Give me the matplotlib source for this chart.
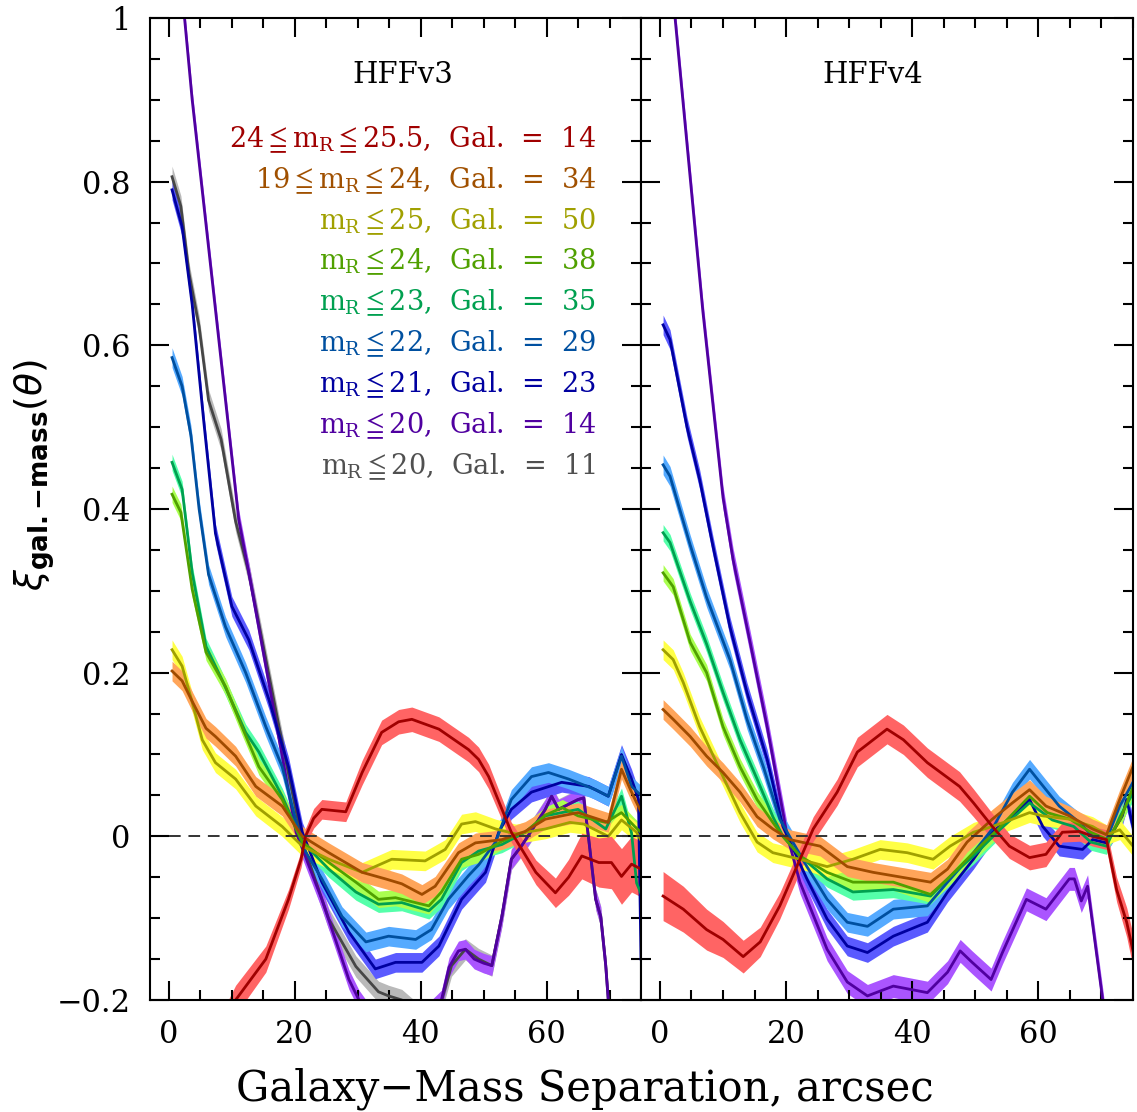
import matplotlib
matplotlib.use('Agg')
import matplotlib.pyplot as plt
from matplotlib.ticker import MultipleLocator, FuncFormatter
import numpy as np

plt.rcParams['font.family'] = 'DejaVu Serif'
plt.rcParams['mathtext.fontset'] = 'dejavuserif'

# ---------------- HFFv3 (left panel) ----------------
v3_red_x = [8, 10.6, 15.4, 19.0, 21.0, 21.7, 23.0, 24.3, 28.1, 30.7, 33.8, 36.5, 38.6, 42.9, 47.6, 49.2, 50.8, 54.4, 58.3, 61.4, 63.5, 65.6, 68.3, 70.3, 71.9, 73.5, 75]
v3_red_y = [-0.24, -0.20, -0.15, -0.077, -0.028, 0.0, 0.022, 0.033, 0.030, 0.078, 0.127, 0.140, 0.143, 0.131, 0.106, 0.094, 0.073, 0.005, -0.044, -0.069, -0.050, -0.024, -0.032, -0.032, -0.049, -0.034, -0.04]
v3_red_e = [0.018, 0.018, 0.016, 0.012, 0.01, 0.01, 0.012, 0.012, 0.012, 0.015, 0.015, 0.015, 0.015, 0.015, 0.015, 0.015, 0.015, 0.012, 0.015, 0.018, 0.022, 0.028, 0.03, 0.032, 0.034, 0.034, 0.034]

v3_orange_x = [0.5, 2.1, 3.7, 5.9, 7.4, 10.6, 13.8, 18.0, 21.2, 25.4, 30.7, 34.4, 37.0, 40.2, 42.3, 46.0, 48.7, 52.9, 56.6, 59.8, 65.0, 69.8, 71.9, 73.5, 75]
v3_orange_y = [0.202, 0.190, 0.165, 0.132, 0.122, 0.098, 0.061, 0.037, 0.0, -0.020, -0.044, -0.052, -0.058, -0.071, -0.061, -0.020, -0.008, -0.004, 0.006, 0.021, 0.029, 0.017, 0.082, 0.054, 0.03]

v3_yellow_x = [0.5, 2.1, 3.7, 5.3, 7.4, 10.6, 13.8, 18.0, 21.2, 25.4, 30.7, 35.4, 40.7, 43.9, 46.5, 48.7, 51.9, 55.1, 59.8, 63.7, 65.9, 69.8, 71.9, 74.3, 75]
v3_yellow_y = [0.228, 0.208, 0.164, 0.118, 0.090, 0.070, 0.037, 0.012, -0.012, -0.028, -0.044, -0.028, -0.030, -0.016, 0.015, 0.018, 0.009, 0.003, 0.009, 0.017, 0.015, 0.0, 0.02, 0.005, -0.005]

v3_green_x = [0.5, 1.9, 3.7, 5.9, 9.0, 11.6, 14.3, 18.0, 21.2, 25.4, 29.7, 33.3, 36.0, 41.3, 43.3, 46.5, 49.2, 52.9, 56.6, 59.8, 62.5, 65.0, 69.4, 71.9, 74.0, 75]
v3_green_y = [0.418, 0.396, 0.302, 0.225, 0.183, 0.134, 0.085, 0.045, -0.007, -0.032, -0.056, -0.077, -0.075, -0.085, -0.068, -0.028, -0.022, -0.006, 0.005, 0.026, 0.035, 0.025, 0.017, 0.029, 0.012, 0.005]

v3_teal_x = [0.5, 2.1, 3.7, 5.9, 8.4, 12.2, 14.3, 18.0, 21.2, 25.4, 29.7, 33.3, 37.0, 41.3, 43.3, 46.5, 49.2, 52.9, 56.6, 59.8, 65.0, 69.4, 71.9, 73.5, 74.3, 75]
v3_teal_y = [0.457, 0.424, 0.322, 0.232, 0.192, 0.127, 0.103, 0.049, -0.007, -0.040, -0.068, -0.083, -0.081, -0.091, -0.077, -0.032, -0.018, -0.010, 0.005, 0.025, 0.033, 0.009, 0.049, 0.004, -0.057, -0.07]

v3_blue_x = [0.5, 2.1, 3.5, 4.8, 6.3, 9.0, 12.2, 15.4, 18.0, 21.2, 24.3, 27.5, 31.3, 34.9, 39.2, 41.7, 44.4, 47.6, 49.2, 51.9, 54.4, 57.6, 60.3, 63.5, 67.8, 69.8, 71.9, 73.5, 75]
v3_blue_y = [0.585, 0.550, 0.490, 0.400, 0.320, 0.256, 0.200, 0.134, 0.085, -0.012, -0.052, -0.098, -0.129, -0.122, -0.126, -0.114, -0.077, -0.048, -0.035, -0.007, 0.045, 0.073, 0.078, 0.070, 0.057, 0.049, 0.098, 0.061, 0.05]

v3_navy_x = [0.5, 2.1, 3.7, 5.5, 7.4, 10.0, 12.7, 15.9, 19.0, 21.2, 24.3, 28.6, 32.8, 36.0, 40.2, 42.9, 46.5, 50.3, 52.4, 54.4, 57.6, 62.4, 66.7, 69.8, 71.9, 73.5, 74.6, 75]
v3_navy_y = [0.790, 0.745, 0.650, 0.510, 0.370, 0.281, 0.240, 0.167, 0.085, 0.005, -0.056, -0.117, -0.162, -0.154, -0.154, -0.134, -0.077, -0.044, 0.005, 0.033, 0.054, 0.066, 0.061, 0.049, 0.100, 0.070, 0.045, -0.15]

v3_purple_x = [2.0, 3.7, 11.1, 12.7, 15.4, 20.2, 24.3, 28.6, 30.2, 33.0, 38.0, 43.3, 44.5, 46.0, 47.1, 48.5, 50.0, 51.3, 52.9, 54.4, 56.0, 59.8, 60.8, 61.9, 65.0, 65.9, 66.7, 67.8, 68.6, 69.4, 69.8, 70.5]
v3_purple_y = [1.04, 0.90, 0.387, 0.322, 0.208, 0.005, -0.077, -0.175, -0.200, -0.23, -0.24, -0.200, -0.160, -0.140, -0.138, -0.150, -0.155, -0.158, -0.098, -0.028, -0.012, 0.033, 0.049, 0.033, 0.045, 0.047, -0.004, -0.077, -0.098, -0.158, -0.200, -0.25]

v3_gray_x = [0.5, 1.9, 3.2, 4.8, 6.3, 8.3, 10.6, 12.7, 14.8, 17.5, 21.2, 25.4, 29.7, 33.3, 34.9, 37.0, 40.0, 43.0, 44.9, 47.1, 49.2, 51.3, 52.9, 54.4, 56.0, 59.8, 60.8, 61.9, 65.0, 65.9, 66.7, 67.8, 68.6, 69.4, 69.8, 70.5]
v3_gray_y = [0.806, 0.770, 0.688, 0.623, 0.533, 0.485, 0.385, 0.322, 0.240, 0.134, -0.007, -0.101, -0.159, -0.190, -0.195, -0.200, -0.22, -0.21, -0.158, -0.138, -0.150, -0.158, -0.098, -0.028, -0.012, 0.033, 0.049, 0.033, 0.045, 0.047, -0.004, -0.077, -0.098, -0.158, -0.200, -0.25]

# ---------------- HFFv4 (right panel) ----------------
v4_red_x = [0.5, 3.7, 7.4, 10.0, 13.2, 15.9, 19.0, 21.7, 24.3, 28.1, 31.3, 36.0, 38.6, 42.4, 47.5, 49.7, 52.7, 55.4, 58.6, 61.2, 63.8, 66.5, 68.6, 70.8, 72.4, 74.0, 75]
v4_red_y = [-0.073, -0.089, -0.114, -0.126, -0.147, -0.129, -0.085, -0.037, 0.009, 0.054, 0.103, 0.131, 0.118, 0.090, 0.061, 0.041, 0.012, -0.012, -0.026, -0.022, 0.005, 0.006, 0.0, -0.004, -0.065, -0.105, -0.14]
v4_red_e = [0.03, 0.028, 0.025, 0.022, 0.02, 0.018, 0.016, 0.015, 0.015, 0.016, 0.018, 0.018, 0.018, 0.018, 0.018, 0.017, 0.016, 0.015, 0.015, 0.015, 0.012, 0.012, 0.012, 0.012, 0.015, 0.018, 0.02]

v4_orange_x = [0.5, 2.1, 4.8, 7.4, 10.0, 12.7, 15.4, 17.9, 20.6, 25.4, 29.7, 33.8, 37.6, 42.9, 45.6, 48.7, 52.7, 55.9, 58.6, 61.2, 64.9, 68.6, 70.8, 72.9, 75]
v4_orange_y = [0.155, 0.143, 0.122, 0.098, 0.078, 0.054, 0.024, 0.009, -0.004, -0.012, -0.037, -0.044, -0.049, -0.056, -0.040, -0.007, 0.021, 0.041, 0.057, 0.037, 0.025, 0.009, 0.002, 0.045, 0.085]

v4_yellow_x = [0.5, 2.1, 3.7, 6.3, 10.0, 12.7, 15.4, 17.9, 22.2, 26.5, 30.6, 34.9, 39.2, 43.3, 46.0, 49.7, 52.7, 55.9, 58.6, 60.7, 64.9, 68.6, 70.8, 72.9, 75]
v4_yellow_y = [0.228, 0.216, 0.188, 0.134, 0.073, 0.029, -0.007, -0.020, -0.028, -0.037, -0.028, -0.016, -0.020, -0.028, -0.012, 0.005, 0.012, 0.021, 0.029, 0.025, 0.021, 0.012, 0.002, 0.008, -0.012]

v4_green_x = [0.5, 2.1, 4.8, 7.4, 10.0, 12.7, 15.4, 17.9, 19.5, 22.2, 26.5, 30.6, 37.0, 42.9, 45.6, 49.7, 54.0, 58.6, 61.4, 65.0, 68.3, 71.0, 73.0, 75]
v4_green_y = [0.322, 0.305, 0.237, 0.200, 0.134, 0.085, 0.045, 0.017, 0.0, -0.024, -0.044, -0.056, -0.056, -0.071, -0.052, -0.020, 0.012, 0.049, 0.029, 0.021, 0.005, -0.004, 0.021, 0.06]

v4_teal_x = [0.5, 1.6, 4.8, 7.4, 10.0, 12.7, 15.4, 17.9, 19.5, 22.2, 26.5, 30.6, 37.0, 42.9, 45.6, 49.7, 54.0, 58.6, 62.2, 65.6, 68.3, 70.8, 73.0, 75]
v4_teal_y = [0.371, 0.359, 0.287, 0.235, 0.176, 0.118, 0.070, 0.024, 0.0, -0.024, -0.052, -0.068, -0.065, -0.073, -0.052, -0.024, 0.009, 0.041, 0.020, 0.012, -0.007, -0.012, 0.025, 0.053]

v4_blue_x = [0.5, 1.6, 4.8, 7.4, 11.1, 13.8, 16.4, 19.0, 23.3, 26.5, 29.7, 32.9, 37.0, 42.4, 45.6, 49.7, 52.7, 55.9, 58.6, 61.2, 63.3, 66.5, 68.6, 70.8, 72.9, 75]
v4_blue_y = [0.454, 0.440, 0.356, 0.292, 0.216, 0.143, 0.085, 0.021, -0.037, -0.077, -0.105, -0.110, -0.089, -0.085, -0.056, -0.020, 0.009, 0.054, 0.082, 0.057, 0.037, 0.017, 0.0, -0.004, 0.037, 0.066]

v4_navy_x = [0.5, 1.6, 4.3, 6.3, 8.4, 11.1, 13.8, 17.0, 19.5, 23.3, 26.5, 29.7, 32.9, 37.0, 42.4, 45.6, 49.7, 52.7, 55.9, 58.6, 60.7, 63.3, 67.0, 68.6, 70.8, 73.3, 74.0, 75]
v4_navy_y = [0.625, 0.607, 0.500, 0.436, 0.355, 0.256, 0.176, 0.094, 0.012, -0.052, -0.101, -0.134, -0.142, -0.122, -0.105, -0.068, -0.028, 0.005, 0.025, 0.045, 0.012, -0.012, -0.016, -0.004, -0.008, 0.025, 0.045, 0.012]

v4_purple_x = [2.0, 2.4, 5.2, 6.8, 10.0, 11.6, 14.3, 17.0, 20.2, 22.2, 26.5, 29.7, 32.9, 37.0, 42.4, 45.6, 47.6, 49.5, 52.5, 54.3, 58.1, 61.2, 64.9, 65.7, 66.8, 67.8, 70.2, 71.0]
v4_purple_y = [1.03, 1.0, 0.772, 0.642, 0.414, 0.338, 0.237, 0.134, 0.0, -0.056, -0.138, -0.178, -0.195, -0.183, -0.191, -0.166, -0.140, -0.154, -0.175, -0.142, -0.077, -0.089, -0.052, -0.052, -0.079, -0.061, -0.200, -0.25]

labels = [r'24$\leqq$m$_\mathrm{R}\leqq$25.5,  Gal.  =  14',
          r'19$\leqq$m$_\mathrm{R}\leqq$24,  Gal.  =  34',
          r'm$_\mathrm{R}\leqq$25,  Gal.  =  50',
          r'm$_\mathrm{R}\leqq$24,  Gal.  =  38',
          r'm$_\mathrm{R}\leqq$23,  Gal.  =  35',
          r'm$_\mathrm{R}\leqq$22,  Gal.  =  29',
          r'm$_\mathrm{R}\leqq$21,  Gal.  =  23',
          r'm$_\mathrm{R}\leqq$20,  Gal.  =  14',
          r'm$_\mathrm{R}\leqq$20,  Gal.  =  11']
text_colors = ['#a00000', '#a05000', '#a0a000', '#50a000', '#00a050', '#0050a0', '#0000a0', '#5000a0', '#505050']

band_colors = {'red': '#ff6464', 'orange': '#ffa55a', 'yellow': '#ffff46', 'green': '#aaff50',
               'teal': '#55ffaa', 'blue': '#55aaff', 'navy': '#5a5aff', 'purple': '#aa55ff', 'gray': '#b9b9b9'}
line_colors = {'red': '#a00000', 'orange': '#a04b00', 'yellow': '#a0a000', 'green': '#50a000',
               'teal': '#00a050', 'blue': '#0050a0', 'navy': '#0000a0', 'purple': '#5000a0', 'gray': '#464646'}

v3 = [('gray', v3_gray_x, v3_gray_y, 0.013),
      ('purple', v3_purple_x, v3_purple_y, 0.012),
      ('navy', v3_navy_x, v3_navy_y, 0.012),
      ('blue', v3_blue_x, v3_blue_y, 0.012),
      ('teal', v3_teal_x, v3_teal_y, 0.010),
      ('green', v3_green_x, v3_green_y, 0.010),
      ('yellow', v3_yellow_x, v3_yellow_y, 0.012),
      ('orange', v3_orange_x, v3_orange_y, 0.012),
      ('red', v3_red_x, v3_red_y, v3_red_e)]
v4 = [('purple', v4_purple_x, v4_purple_y, 0.014),
      ('navy', v4_navy_x, v4_navy_y, 0.012),
      ('blue', v4_blue_x, v4_blue_y, 0.012),
      ('teal', v4_teal_x, v4_teal_y, 0.010),
      ('green', v4_green_x, v4_green_y, 0.010),
      ('yellow', v4_yellow_x, v4_yellow_y, 0.012),
      ('orange', v4_orange_x, v4_orange_y, 0.012),
      ('red', v4_red_x, v4_red_y, v4_red_e)]

W, H = 1137, 1112
fig = plt.figure(figsize=(W / 100, H / 100), dpi=100)
ax1 = fig.add_axes([150 / W, 112 / H, 491 / W, 982 / H])
ax2 = fig.add_axes([641 / W, 112 / H, 492 / W, 982 / H])


def fmt(v, pos):
    if abs(v) < 1e-9:
        return '0'
    return ('%g' % v).replace('-', '\u2212')


for ax, series in ((ax1, v3), (ax2, v4)):
    for name, xs, ys, err in series:
        x = np.array(xs, float)
        y = np.array(ys, float)
        e = np.broadcast_to(np.asarray(err, float), y.shape)
        ax.fill_between(x, y - e, y + e, color=band_colors[name], lw=0)
        ax.plot(x, y, color=line_colors[name], lw=2)
    ax.plot([0, 75], [0, 0], color='#333333', lw=1.4, dashes=(6, 4), zorder=5)
    ax.set_xlim(-3, 75)
    ax.set_ylim(-0.2, 1.0)
    ax.xaxis.set_major_locator(MultipleLocator(20))
    ax.xaxis.set_minor_locator(MultipleLocator(5))
    ax.yaxis.set_major_locator(MultipleLocator(0.2))
    ax.yaxis.set_minor_locator(MultipleLocator(0.05))
    ax.xaxis.set_major_formatter(FuncFormatter(fmt))
    ax.yaxis.set_major_formatter(FuncFormatter(fmt))
    ax.tick_params(which='both', direction='in', top=True, right=True, width=1.5, labelsize=22)
    ax.tick_params(which='major', length=14, pad=14)
    ax.tick_params(which='minor', length=7)
    for s in ax.spines.values():
        s.set_linewidth(1.5)

ax2.tick_params(labelleft=False)

ax1.text(37.1, 0.93, 'HFFv3', fontsize=21, ha='center', va='center')
ax2.text(33.8, 0.93, 'HFFv4', fontsize=21, ha='center', va='center')

for i, (lab, c) in enumerate(zip(labels, text_colors)):
    ax1.text(67.9, 0.8425 - 0.05 * i, lab, color=c, fontsize=19.5, ha='right', va='baseline')

ax1.set_ylabel(r'$\xi_{\mathbf{gal.{-}mass}}(\theta)$', fontsize=27, math_fontfamily='dejavusans')
ax1.yaxis.set_label_coords(-0.19, 0.535)

fig.text(585 / W, 12 / H, 'Galaxy\u2212Mass Separation, arcsec', fontsize=30, ha='center', va='baseline')

fig.savefig('out.png', dpi=100)
